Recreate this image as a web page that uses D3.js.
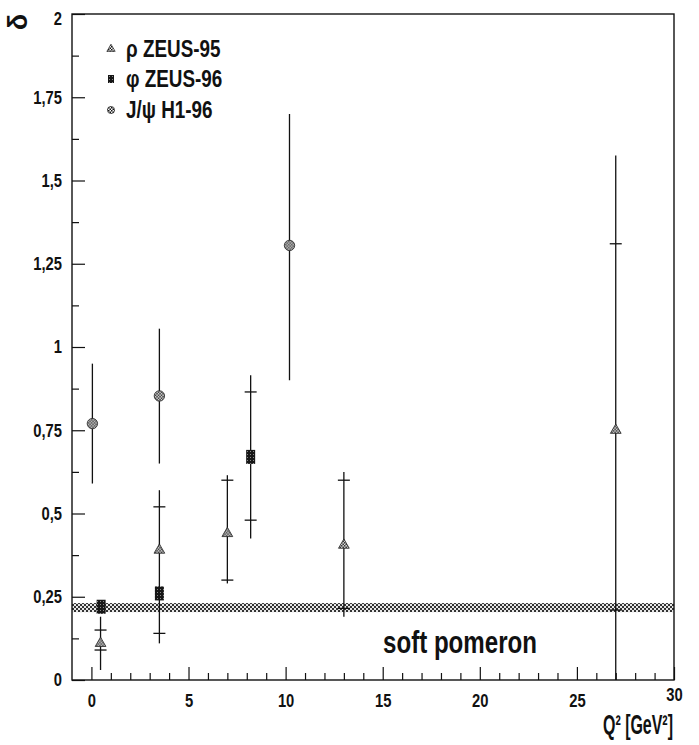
<!DOCTYPE html>
<html>
<head>
<meta charset="utf-8">
<script src="https://cdn.jsdelivr.net/npm/d3@7"></script>
<style>
  body { margin: 0; background: #fff; }
  svg { display: block; }
  text { font-family: "Liberation Sans", Arial, sans-serif; fill: #111; }
</style>
</head>
<body>
<svg id="chart"></svg>
<script>
// rho ZEUS-95
const rhoQ2     = [0.47, 3.5, 7.0, 13.0, 27.0];
const rhoDelta  = [0.11, 0.39, 0.44, 0.405, 0.75];
const rhoStatLo = [0.09, 0.14, 0.30, 0.215, 0.21];
const rhoStatHi = [0.15, 0.52, 0.60, 0.60, 1.31];
const rhoTotLo  = [0.03, 0.11, 0.29, 0.19, 0.0];
const rhoTotHi  = [0.19, 0.57, 0.615, 0.625, 1.575];

// phi ZEUS-96
const phiQ2     = [0.5, 3.5, 8.2];
const phiDelta  = [0.22, 0.26, 0.67];
const phiStatLo = [null, null, 0.48];
const phiStatHi = [null, null, 0.865];
const phiTotLo  = [0.20, 0.24, 0.425];
const phiTotHi  = [0.24, 0.28, 0.915];

// J/psi H1-96
const psiQ2     = [0.05, 3.5, 10.2];
const psiDelta  = [0.77, 0.853, 1.305];
const psiTotLo  = [0.59, 0.65, 0.90];
const psiTotHi  = [0.95, 1.055, 1.70];

// soft pomeron band
const pomeronLo = 0.204;
const pomeronHi = 0.231;

const legendLabels = ["ρ ZEUS-95", "φ ZEUS-96", "J/ψ H1-96"];
const xMajor = [0, 5, 10, 15, 20, 25, 30];
const yMajor = [0, 0.25, 0.5, 0.75, 1, 1.25, 1.5, 1.75, 2];

const W = 699, H = 745;
const svg = d3.select("#chart").attr("width", W).attr("height", H);

const x = d3.scaleLinear().domain([-1, 30]).range([72, 674]);
const y = d3.scaleLinear().domain([0, 2]).range([680, 14]);

// condensed look: squeeze Liberation Sans horizontally
function narrow(sel, k) {
  sel.each(function () {
    const w = this.getComputedTextLength();
    d3.select(this).attr("textLength", w * k).attr("lengthAdjust", "spacingAndGlyphs");
  });
}

// patterns
const defs = svg.append("defs");
const hatch = defs.append("pattern").attr("id", "hatch")
  .attr("patternUnits", "userSpaceOnUse").attr("width", 3).attr("height", 3);
hatch.append("rect").attr("width", 3).attr("height", 3).attr("fill", "#fff");
hatch.append("rect").attr("width", 1.5).attr("height", 1.5).attr("fill", "#111");
hatch.append("rect").attr("x", 1.5).attr("y", 1.5).attr("width", 1.5).attr("height", 1.5).attr("fill", "#111");

const dark = defs.append("pattern").attr("id", "dark")
  .attr("patternUnits", "userSpaceOnUse").attr("width", 3).attr("height", 3);
dark.append("rect").attr("width", 3).attr("height", 3).attr("fill", "#161616");
dark.append("rect").attr("x", 1).attr("y", 1).attr("width", 1).attr("height", 1).attr("fill", "#888");

const band = defs.append("pattern").attr("id", "band")
  .attr("patternUnits", "userSpaceOnUse").attr("width", 4).attr("height", 4);
band.append("rect").attr("width", 4).attr("height", 4).attr("fill", "#e6e6e6");
band.append("rect").attr("width", 2).attr("height", 2).attr("fill", "#333");
band.append("rect").attr("x", 2).attr("y", 2).attr("width", 2).attr("height", 2).attr("fill", "#333");

// soft pomeron band
svg.append("rect")
  .attr("x", x(-1)).attr("width", x(30) - x(-1))
  .attr("y", y(pomeronHi)).attr("height", y(pomeronLo) - y(pomeronHi))
  .attr("fill", "url(#band)");

svg.append("text")
  .attr("x", 460).attr("y", 653)
  .attr("text-anchor", "middle")
  .attr("textLength", 154).attr("lengthAdjust", "spacingAndGlyphs")
  .style("font-size", "31px").style("font-weight", "bold")
  .text("soft pomeron");

// axes
const xMinor = d3.range(1, 30).filter(d => d % 5 !== 0);
svg.append("g").attr("transform", `translate(0,${y(0)})`)
  .call(d3.axisBottom(x).tickValues(xMinor).tickSize(-7).tickFormat(""));
const xAx = svg.append("g").attr("transform", `translate(0,${y(0)})`)
  .call(d3.axisBottom(x).tickValues(xMajor).tickSize(-13).tickPadding(14).tickFormat(d3.format("d")));

const yMinor = d3.range(0.125, 2, 0.25);
svg.append("g").attr("transform", `translate(${x(-1)},0)`)
  .call(d3.axisLeft(y).tickValues(yMinor).tickSize(-7).tickFormat(""));
const yAx = svg.append("g").attr("transform", `translate(${x(-1)},0)`)
  .call(d3.axisLeft(y).tickValues(yMajor).tickSize(-13).tickPadding(10)
    .tickFormat(d => String(d).replace(".", ",")));

svg.selectAll(".domain").remove();
svg.selectAll(".tick line").attr("stroke", "#111").attr("stroke-width", 1.2);
svg.selectAll(".tick text")
  .style("font-size", "18px").style("font-weight", "bold").attr("fill", "#111")
  .call(narrow, 0.82);

// "2" sits just below the frame top, "30" is lifted above the title
yAx.selectAll(".tick text").filter(d => d === 2).attr("dy", "0.6em");
xAx.selectAll(".tick text").filter(d => d === 30).attr("y", 8);

// frame
svg.append("rect")
  .attr("x", x(-1)).attr("y", y(2))
  .attr("width", x(30) - x(-1)).attr("height", y(0) - y(2))
  .attr("fill", "none").attr("stroke", "#111").attr("stroke-width", 1.4);

// axis titles
svg.append("text")
  .attr("transform", "translate(27,22) rotate(-90)")
  .attr("text-anchor", "middle")
  .style("font-size", "27px").style("font-weight", "bold")
  .text("δ");

svg.append("g")
  .attr("transform", "translate(603,734) scale(0.57,1)")
  .append("text")
  .style("font-size", "28px").style("font-weight", "bold")
  .text("Q² [GeV²]");

// error bars and markers
function series(q2, val, totLo, totHi, statLo, statHi) {
  return q2.map((q, i) => ({
    q, v: val[i], lo: totLo[i], hi: totHi[i],
    sLo: statLo ? statLo[i] : null, sHi: statHi ? statHi[i] : null
  }));
}
const rho = series(rhoQ2, rhoDelta, rhoTotLo, rhoTotHi, rhoStatLo, rhoStatHi);
const phi = series(phiQ2, phiDelta, phiTotLo, phiTotHi, phiStatLo, phiStatHi);
const psi = series(psiQ2, psiDelta, psiTotLo, psiTotHi, null, null);

const bars = svg.append("g").attr("stroke", "#111").attr("stroke-width", 1.3);
[rho, phi, psi].forEach(s => {
  bars.selectAll(null).data(s).join("line")
    .attr("x1", d => x(d.q)).attr("x2", d => x(d.q))
    .attr("y1", d => y(d.lo)).attr("y2", d => y(d.hi));
  const caps = s.flatMap(d => d.sLo == null ? [] : [{q: d.q, v: d.sLo}, {q: d.q, v: d.sHi}]);
  bars.selectAll(null).data(caps).join("line")
    .attr("x1", d => x(d.q) - 6).attr("x2", d => x(d.q) + 6)
    .attr("y1", d => y(d.v)).attr("y2", d => y(d.v));
});

const tri = d3.symbol(d3.symbolTriangle, 50);
const circ = d3.symbol(d3.symbolCircle, 85);

const marks = svg.append("g");
marks.selectAll(null).data(psi).join("path")
  .attr("d", circ)
  .attr("transform", d => `translate(${x(d.q)},${y(d.v)})`)
  .attr("fill", "url(#hatch)").attr("stroke", "#222").attr("stroke-width", 0.8);
marks.selectAll(null).data(phi).join("rect")
  .attr("x", d => x(d.q) - 4.5).attr("y", d => y(d.v) - 7)
  .attr("width", 9).attr("height", 14)
  .attr("fill", "url(#dark)");
marks.selectAll(null).data(rho).join("path")
  .attr("d", tri)
  .attr("transform", d => `translate(${x(d.q)},${y(d.v)})`)
  .attr("fill", "url(#hatch)").attr("stroke", "#222").attr("stroke-width", 0.8);

// legend
const legY = [49, 79, 110];
const leg = svg.append("g");
leg.append("path").attr("d", d3.symbol(d3.symbolTriangle, 30))
  .attr("transform", `translate(111,${legY[0]})`)
  .attr("fill", "url(#hatch)").attr("stroke", "#222").attr("stroke-width", 0.7);
leg.append("rect").attr("x", 108).attr("y", legY[1] - 4).attr("width", 6).attr("height", 8)
  .attr("fill", "url(#dark)");
leg.append("path").attr("d", d3.symbol(d3.symbolCircle, 40))
  .attr("transform", `translate(111,${legY[2]})`)
  .attr("fill", "url(#hatch)").attr("stroke", "#222").attr("stroke-width", 0.7);
leg.selectAll("text.leg").data(legendLabels).join("text")
  .attr("class", "leg")
  .attr("x", 126).attr("y", (d, i) => legY[i] + 8)
  .style("font-size", "23px").style("font-weight", "bold")
  .text(d => d)
  .call(narrow, 0.82);
</script>
</body>
</html>
